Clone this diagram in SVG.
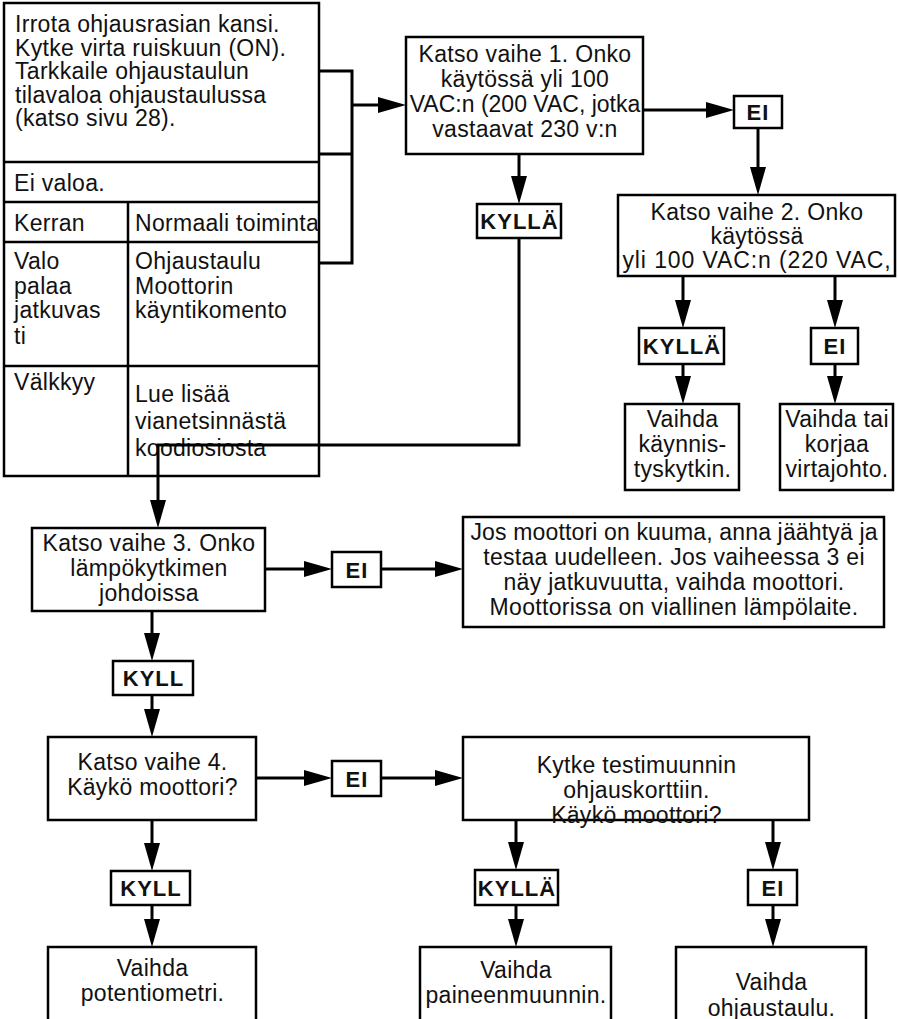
<svg xmlns="http://www.w3.org/2000/svg" width="898" height="1019" viewBox="0 0 898 1019">
<defs>
<style>
.t{font-family:"Liberation Sans",Arial,Helvetica,sans-serif;font-size:23px;letter-spacing:0.3px;fill:#111}
.c{text-anchor:middle}
.b{font-weight:bold;font-size:22px;letter-spacing:1px}
.box{fill:#fff;stroke:#000;stroke-width:2.5}
.ln{fill:none;stroke:#000;stroke-width:2.5}
.cn{fill:none;stroke:#000;stroke-width:3}
</style>
<marker id="ah" markerUnits="userSpaceOnUse" markerWidth="28" markerHeight="16" refX="0" refY="8" orient="auto" overflow="visible">
<path d="M0,0 L28,8 L0,16 z" fill="#000"/>
</marker>
</defs>
<rect width="898" height="1019" fill="#fff"/>

<g id="table">
<rect class="box" x="4" y="3" width="315" height="473"/>
<path class="ln" d="M3,162 H319 M3,202 H319 M3,242 H319 M3,366 H319 M128,202 V476"/>
<text class="t" x="15" y="32">Irrota ohjausrasian kansi.</text>
<text class="t" x="15" y="55.5">Kytke virta ruiskuun (ON).</text>
<text class="t" x="15" y="79">Tarkkaile ohjaustaulun</text>
<text class="t" x="15" y="102.5">tilavaloa ohjaustaulussa</text>
<text class="t" x="15" y="126">(katso sivu 28).</text>
<text class="t" x="14" y="191">Ei valoa.</text>
<text class="t" x="14" y="231">Kerran</text>
<text class="t" x="135" y="231">Normaali toiminta</text>
<text class="t" x="14" y="269">Valo</text>
<text class="t" x="14" y="293.5">palaa</text>
<text class="t" x="14" y="318">jatkuvas</text>
<text class="t" x="14" y="344">ti</text>
<text class="t" x="135" y="269">Ohjaustaulu</text>
<text class="t" x="135" y="293.5">Moottorin</text>
<text class="t" x="135" y="318">käyntikomento</text>
<text class="t" x="14" y="390">Välkkyy</text>
<text class="t" x="135" y="402">Lue lisää</text>
<text class="t" x="135" y="429">vianetsinnästä</text>
<text class="t" x="135" y="456">koodiosiosta</text>
</g>

<g id="step1">
<rect class="box" x="406" y="37" width="237" height="117"/>
<text class="t c" x="525" y="62">Katso vaihe 1. Onko</text>
<text class="t c" x="525" y="87">käytössä yli 100</text>
<text class="t c" x="525" y="112" style="letter-spacing:0">VAC:n (200 VAC, jotka</text>
<text class="t c" x="525" y="137">vastaavat 230 v:n</text>
</g>

<g id="ei1">
<rect class="box" x="734" y="96" width="48" height="32"/>
<text class="t c b" x="758" y="119.5">EI</text>
</g>

<g id="kylla1">
<rect class="box" x="477" y="204" width="84" height="34"/>
<text class="t c b" x="519.5" y="229">KYLLÄ</text>
</g>

<g id="step2">
<rect class="box" x="618" y="195" width="277" height="81"/>
<text class="t c" x="757" y="220">Katso vaihe 2. Onko</text>
<text class="t c" x="757" y="244">käytössä</text>
<text class="t c" x="757" y="268" style="letter-spacing:0.9px">yli 100 VAC:n (220 VAC,</text>
</g>

<g id="kylla2">
<rect class="box" x="639" y="328" width="85" height="36"/>
<text class="t c b" x="682" y="354">KYLLÄ</text>
</g>

<g id="ei2">
<rect class="box" x="811" y="328" width="47" height="36"/>
<text class="t c b" x="835" y="354">EI</text>
</g>

<g id="replace-switch">
<rect class="box" x="625" y="404" width="114" height="86"/>
<text class="t c" x="682.5" y="427">Vaihda</text>
<text class="t c" x="682.5" y="452">käynnis-</text>
<text class="t c" x="682.5" y="477">tyskytkin.</text>
</g>

<g id="replace-cord">
<rect class="box" x="780" y="404" width="113" height="86"/>
<text class="t c" x="837" y="427">Vaihda tai</text>
<text class="t c" x="837" y="452">korjaa</text>
<text class="t c" x="837" y="477">virtajohto.</text>
</g>

<g id="step3">
<rect class="box" x="32" y="528" width="233" height="83"/>
<text class="t c" x="149" y="551">Katso vaihe 3. Onko</text>
<text class="t c" x="149" y="576">lämpökytkimen</text>
<text class="t c" x="149" y="601">johdoissa</text>
</g>

<g id="ei3">
<rect class="box" x="332" y="552" width="49" height="35"/>
<text class="t c b" x="357" y="577.5">EI</text>
</g>

<g id="motor-hot">
<rect class="box" x="463" y="517" width="421" height="110"/>
<text class="t c" x="674" y="540" style="letter-spacing:0.15px">Jos moottori on kuuma, anna jäähtyä ja</text>
<text class="t c" x="674" y="565">testaa uudelleen. Jos vaiheessa 3 ei</text>
<text class="t c" x="674" y="590">näy jatkuvuutta, vaihda moottori.</text>
<text class="t c" x="674" y="615">Moottorissa on viallinen lämpölaite.</text>
</g>

<g id="kyll1">
<rect class="box" x="113" y="661" width="80" height="34"/>
<text class="t c b" x="153.5" y="686">KYLL</text>
</g>

<g id="step4">
<rect class="box" x="48" y="737" width="208" height="83"/>
<text class="t c" x="152.5" y="770">Katso vaihe 4.</text>
<text class="t c" x="152.5" y="795">Käykö moottori?</text>
</g>

<g id="ei4">
<rect class="box" x="332" y="761" width="49" height="35"/>
<text class="t c b" x="357" y="786.5">EI</text>
</g>

<g id="test-transducer">
<rect class="box" x="463" y="737" width="346" height="83"/>
<text class="t c" x="636.5" y="773">Kytke testimuunnin</text>
<text class="t c" x="636.5" y="798">ohjauskorttiin.</text>
<text class="t c" x="636.5" y="823">Käykö moottori?</text>
</g>

<g id="kyll2">
<rect class="box" x="111" y="871" width="79" height="34"/>
<text class="t c b" x="151" y="896">KYLL</text>
</g>

<g id="kylla3">
<rect class="box" x="475" y="870" width="83" height="35"/>
<text class="t c b" x="517" y="895.5">KYLLÄ</text>
</g>

<g id="ei5">
<rect class="box" x="748" y="870" width="49" height="35"/>
<text class="t c b" x="773" y="895.5">EI</text>
</g>

<g id="replace-pot">
<rect class="box" x="48" y="947" width="208" height="90"/>
<text class="t c" x="152.5" y="976">Vaihda</text>
<text class="t c" x="152.5" y="1001">potentiometri.</text>
</g>

<g id="replace-transducer">
<rect class="box" x="420" y="947" width="191" height="90"/>
<text class="t c" x="516" y="978">Vaihda</text>
<text class="t c" x="516" y="1003">paineenmuunnin.</text>
</g>

<g id="replace-board">
<rect class="box" x="676" y="947" width="190" height="90"/>
<text class="t c" x="771.5" y="990">Vaihda</text>
<text class="t c" x="771.5" y="1016">ohjaustaulu.</text>
</g>

<g id="connectors">
<path class="cn" d="M319,71 H352 V263 H319 M319,154 H352"/>
<path class="cn" d="M352,105 H378" marker-end="url(#ah)"/>
<path class="cn" d="M643,110 H706" marker-end="url(#ah)"/>
<path class="cn" d="M758,128 V167" marker-end="url(#ah)"/>
<path class="cn" d="M519,154 V176" marker-end="url(#ah)"/>
<path class="cn" d="M519,238 V445 H158 V500" marker-end="url(#ah)"/>
<path class="cn" d="M683,276 V300" marker-end="url(#ah)"/>
<path class="cn" d="M835,276 V300" marker-end="url(#ah)"/>
<path class="cn" d="M683,364 V376" marker-end="url(#ah)"/>
<path class="cn" d="M835,364 V376" marker-end="url(#ah)"/>
<path class="cn" d="M265,569 H304" marker-end="url(#ah)"/>
<path class="cn" d="M381,569 H435" marker-end="url(#ah)"/>
<path class="cn" d="M152,611 V633" marker-end="url(#ah)"/>
<path class="cn" d="M152,695 V709" marker-end="url(#ah)"/>
<path class="cn" d="M256,778 H304" marker-end="url(#ah)"/>
<path class="cn" d="M381,778 H435" marker-end="url(#ah)"/>
<path class="cn" d="M152,820 V843" marker-end="url(#ah)"/>
<path class="cn" d="M152,905 V919" marker-end="url(#ah)"/>
<path class="cn" d="M516,820 V842" marker-end="url(#ah)"/>
<path class="cn" d="M773,820 V842" marker-end="url(#ah)"/>
<path class="cn" d="M516,905 V919" marker-end="url(#ah)"/>
<path class="cn" d="M773,905 V919" marker-end="url(#ah)"/>
</g>
</svg>
